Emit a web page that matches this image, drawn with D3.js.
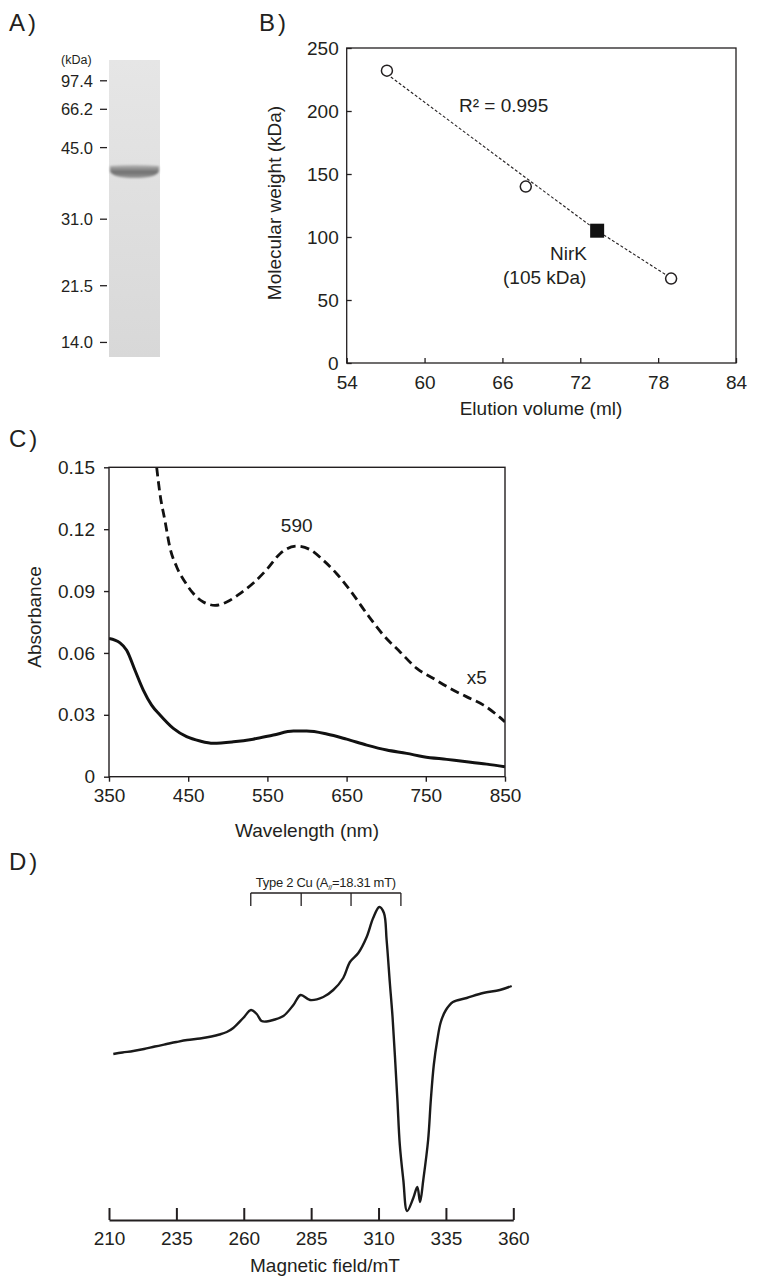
<!DOCTYPE html>
<html><head><meta charset="utf-8">
<script src="https://cdn.jsdelivr.net/npm/d3@7"></script>
<style>
body{margin:0;background:#fff}
text{font-family:"Liberation Sans",Arial,Helvetica,sans-serif;fill:#231f20}
</style>
</head><body>
<svg id="chart" width="759" height="1287"></svg>
<script>
// ---------- Panel A: SDS-PAGE ----------
const gelMarkerLabels = ["97.4","66.2","45.0","31.0","21.5","14.0"];
const gelMarkerRf = [0.070,0.166,0.295,0.536,0.760,0.951];
const gelBandRf = [0.377];

// ---------- Panel B: gel filtration ----------
const standardVolume = [57.1, 67.8, 79.0];
const standardMW = [232, 140, 67];
const nirkVolume = [73.3];
const nirkMW = [105];
const fitVolume = [57.4, 67.8, 73.3, 78.6];
const fitMW = [227, 147, 105, 70];
const bXTicks = [54,60,66,72,78,84];
const bYTicks = [0,50,100,150,200,250];

// ---------- Panel C: UV-vis ----------
const wavelengthSolid = [350,363.9,372.3,382.8,393.3,403.8,414.4,431.2,448,464.9,481.7,507,532,557.6,582.8,599.6,624.9,650,675.4,700.6,725.9,747,776.4,801.6,826.9,850];
const absSolid = [0.067,0.0649,0.0613,0.0516,0.042,0.0347,0.0299,0.0234,0.0194,0.0173,0.0162,0.0169,0.0182,0.0202,0.0221,0.0221,0.0207,0.0182,0.0153,0.0129,0.0113,0.0097,0.0084,0.0073,0.0061,0.0048];
const wavelengthDashed = [410.2,414.4,420.7,427,435.5,446,456.5,469.1,483.9,498.6,515.4,532.3,549.1,566,587,603.8,620.7,637.5,654.4,675.4,696.5,717.5,738.6,759.7,780.7,801.8,822.9,850];
const absDashed = [0.150,0.137,0.124,0.111,0.1017,0.0944,0.0888,0.0847,0.0831,0.0847,0.0888,0.0939,0.1004,0.1081,0.1118,0.1101,0.1049,0.0984,0.0904,0.0791,0.0686,0.0605,0.0525,0.0476,0.0428,0.0387,0.0347,0.0266];
const cXTicks = [350,450,550,650,750,850];
const cYTicks = [0,0.03,0.06,0.09,0.12,0.15];

// ---------- Panel D: EPR ----------
const fieldMT = [211.6,215,219.0,223,227,231.4,235,239,243.8,248,251,253.7,256.1,259.8,262.7,264.8,266.6,268.5,270.9,274.7,278.4,281.1,284.6,289.5,293.2,296.9,299.4,302.5,305.6,308.0,310.3,312.0,313.0,314.2,315.2,316.1,317.0,317.9,319.2,320.6,322.9,324.4,325.4,326.6,328.4,329.4,330.5,331.8,333.1,335.0,337.6,342.7,348.8,355.0,359.4];
const eprSignal = [0.46,0.475,0.49,0.51,0.535,0.56,0.58,0.60,0.615,0.635,0.655,0.68,0.72,0.82,0.90,0.86,0.79,0.785,0.80,0.84,0.95,1.05,1.00,1.03,1.10,1.22,1.38,1.47,1.63,1.82,1.93,1.87,1.60,1.17,0.83,0.43,0.00,-0.45,-0.80,-1.11,-0.98,-0.87,-1.02,-0.80,-0.40,0.00,0.35,0.60,0.78,0.90,0.98,1.02,1.07,1.10,1.14];
const dXTicks = [210,235,260,285,310,335,360];
const hyperfineMT = [262.6,281.3,299.8,318.3];

const ink = "#231f20";
const svg = d3.select("#chart");
svg.append("rect").attr("width",759).attr("height",1287).attr("fill","#fff");
const defs = svg.append("defs");

function panelLabel(x,y,t){
  svg.append("text").attr("x",x).attr("y",y).attr("font-size",24).text(t[0])
    .append("tspan").attr("dx",3).text(t.slice(1));
}

// ===== Panel A =====
panelLabel(9,31,"A)");
{
  const laneX0 = 109, laneX1 = 160;
  const yA = d3.scaleLinear().domain([0,1]).range([60,357]);
  const lg = defs.append("linearGradient").attr("id","lane").attr("x1",0).attr("x2",0).attr("y1",0).attr("y2",1);
  lg.append("stop").attr("offset",0).attr("stop-color","#e6e6e6");
  lg.append("stop").attr("offset",1).attr("stop-color","#d8d8d8");
  svg.append("rect").attr("x",laneX0).attr("y",yA(0)).attr("width",laneX1-laneX0).attr("height",yA(1)-yA(0)).attr("fill","url(#lane)");
  const bg = defs.append("linearGradient").attr("id","band").attr("x1",0).attr("x2",0).attr("y1",0).attr("y2",1);
  bg.append("stop").attr("offset",0).attr("stop-color","#b8b8b8");
  bg.append("stop").attr("offset",0.55).attr("stop-color","#6f6f6f");
  bg.append("stop").attr("offset",1).attr("stop-color","#9a9a9a");
  defs.append("filter").attr("id","blur").append("feGaussianBlur").attr("stdDeviation",0.9);
  gelBandRf.forEach(rf=>{
    const c = yA(rf);
    const p = d3.path();
    p.moveTo(laneX0+1, c-6);
    p.quadraticCurveTo((laneX0+laneX1)/2, c-8, laneX1-1, c-6);
    p.lineTo(laneX1-1, c-1);
    p.quadraticCurveTo(laneX1-3, c+6, (laneX0+laneX1)/2, c+6);
    p.quadraticCurveTo(laneX0+3, c+6, laneX0+1, c-1);
    p.closePath();
    svg.append("path").attr("d",p.toString()).attr("fill","url(#band)").attr("filter","url(#blur)");
  });
  svg.append("text").attr("x",61).attr("y",64).attr("font-size",12.5).text("(kDa)");
  gelMarkerLabels.forEach((lab,i)=>{
    const y = yA(gelMarkerRf[i]);
    svg.append("line").attr("x1",100).attr("x2",107).attr("y1",y).attr("y2",y).attr("stroke",ink).attr("stroke-width",1.3);
    svg.append("text").attr("x",93).attr("y",y).attr("dy","0.36em").attr("text-anchor","end").attr("font-size",16.5).text(lab);
  });
}

// ===== Panel B =====
panelLabel(259,31,"B)");
{
  const x = d3.scaleLinear().domain([54,84]).range([346.7,736]);
  const y = d3.scaleLinear().domain([0,250]).range([363,48]);
  const g = svg.append("g");
  g.append("rect").attr("x",x(54)).attr("y",y(250)).attr("width",x(84)-x(54)).attr("height",y(0)-y(250))
    .attr("fill","none").attr("stroke",ink).attr("stroke-width",1.3);
  const ax = g.append("g").attr("transform",`translate(0,${y(0)})`)
    .call(d3.axisBottom(x).tickValues(bXTicks).tickSizeInner(-5).tickSizeOuter(0).tickPadding(12.5).tickFormat(d3.format("d")));
  const ay = g.append("g").attr("transform",`translate(${x(54)},0)`)
    .call(d3.axisLeft(y).tickValues(bYTicks).tickSizeInner(-5).tickSizeOuter(0).tickPadding(8).tickFormat(d3.format("d")));
  [ax,ay].forEach(a=>{
    a.select(".domain").remove();
    a.selectAll("line").attr("stroke",ink).attr("stroke-width",1.3);
    a.selectAll("text").attr("font-size",19).attr("fill",ink).style("font-family",'"Liberation Sans",Arial,sans-serif');
  });
  const fit = d3.range(fitVolume.length).map(i=>[fitVolume[i],fitMW[i]]);
  g.append("path").attr("d",d3.line().x(d=>x(d[0])).y(d=>y(d[1]))(fit))
    .attr("fill","none").attr("stroke",ink).attr("stroke-width",1.1).attr("stroke-dasharray","3,2");
  standardVolume.forEach((v,i)=>{
    g.append("circle").attr("cx",x(v)).attr("cy",y(standardMW[i])).attr("r",5.5)
      .attr("fill","#fff").attr("stroke",ink).attr("stroke-width",1.5);
  });
  nirkVolume.forEach((v,i)=>{
    g.append("rect").attr("x",x(v)-7).attr("y",y(nirkMW[i])-7).attr("width",14).attr("height",14).attr("fill","#111");
  });
  g.append("text").attr("x",459).attr("y",112).attr("font-size",19).text("R² = 0.995");
  g.append("text").attr("x",550).attr("y",260).attr("font-size",19).text("NirK");
  g.append("text").attr("x",503).attr("y",284).attr("font-size",19).text("(105 kDa)");
  g.append("text").attr("transform","translate(281,203) rotate(-90)").attr("text-anchor","middle").attr("font-size",19).text("Molecular weight (kDa)");
  g.append("text").attr("x",541).attr("y",415).attr("text-anchor","middle").attr("font-size",19).text("Elution volume (ml)");
}

// ===== Panel C =====
panelLabel(9,447,"C)");
{
  const x = d3.scaleLinear().domain([350,850]).range([109,505]);
  const y = d3.scaleLinear().domain([0,0.15]).range([776.7,467.3]);
  const g = svg.append("g");
  defs.append("clipPath").attr("id","clipC").append("rect")
    .attr("x",x(350)).attr("y",y(0.15)).attr("width",x(850)-x(350)).attr("height",y(0)-y(0.15));
  const ax = g.append("g").attr("transform",`translate(0,${y(0)})`)
    .call(d3.axisBottom(x).tickValues(cXTicks).tickSizeInner(5).tickSizeOuter(0).tickPadding(6.5).tickFormat(d3.format("d")));
  const ay = g.append("g").attr("transform",`translate(${x(350)},0)`)
    .call(d3.axisLeft(y).tickValues(cYTicks).tickSizeInner(5).tickSizeOuter(0).tickPadding(9).tickFormat(d=>d===0?"0":d.toFixed(2)));
  [ax,ay].forEach(a=>{
    a.select(".domain").remove();
    a.selectAll("line").attr("stroke",ink).attr("stroke-width",1.4);
    a.selectAll("text").attr("font-size",19).attr("fill",ink).style("font-family",'"Liberation Sans",Arial,sans-serif');
  });
  const line = d3.line().x(d=>x(d[0])).y(d=>y(d[1])).curve(d3.curveMonotoneX);
  const solid = wavelengthSolid.map((w,i)=>[w,absSolid[i]]);
  const dashed = wavelengthDashed.map((w,i)=>[w,absDashed[i]]);
  g.append("path").attr("clip-path","url(#clipC)").attr("d",line(solid)).attr("fill","none").attr("stroke","#111").attr("stroke-width",3);
  g.append("path").attr("clip-path","url(#clipC)").attr("d",line(dashed)).attr("fill","none").attr("stroke","#111").attr("stroke-width",2.8).attr("stroke-dasharray","9,5");
  g.append("rect").attr("x",x(350)).attr("y",y(0.15)).attr("width",x(850)-x(350)).attr("height",y(0)-y(0.15))
    .attr("fill","none").attr("stroke",ink).attr("stroke-width",1.4);
  g.append("text").attr("x",296.7).attr("y",532).attr("text-anchor","middle").attr("font-size",19).text("590");
  g.append("text").attr("x",476.7).attr("y",684).attr("text-anchor","middle").attr("font-size",19).text("x5");
  g.append("text").attr("transform","translate(41,617) rotate(-90)").attr("text-anchor","middle").attr("font-size",19).text("Absorbance");
  g.append("text").attr("x",307).attr("y",837).attr("text-anchor","middle").attr("font-size",19).text("Wavelength (nm)");
}

// ===== Panel D =====
panelLabel(9,870,"D)");
{
  const x = d3.scaleLinear().domain([210,360]).range([109,513.3]);
  const y = d3.scaleLinear().domain([-1.2,2.0]).range([1220,900]);
  const g = svg.append("g");
  const ax = g.append("g").attr("transform",`translate(0,1220)`)
    .call(d3.axisBottom(x).tickValues(dXTicks).tickSizeInner(-12).tickSizeOuter(0).tickPadding(11.5).tickFormat(d3.format("d")));
  ax.select(".domain").attr("stroke",ink).attr("stroke-width",2);
  ax.selectAll("line").attr("stroke",ink).attr("stroke-width",2);
  ax.selectAll("text").attr("font-size",19).attr("fill",ink).style("font-family",'"Liberation Sans",Arial,sans-serif');
  const epr = fieldMT.map((f,i)=>[f,eprSignal[i]]);
  g.append("path").attr("d",d3.line().x(d=>x(d[0])).y(d=>y(d[1])).curve(d3.curveCatmullRom.alpha(0.5))(epr))
    .attr("fill","none").attr("stroke","#1a1a1a").attr("stroke-width",2.4).attr("stroke-linejoin","round");
  // hyperfine bracket
  const by = 893, bt = 906;
  g.append("line").attr("x1",x(hyperfineMT[0])).attr("x2",x(hyperfineMT[hyperfineMT.length-1])).attr("y1",by).attr("y2",by)
    .attr("stroke",ink).attr("stroke-width",1.3);
  hyperfineMT.forEach(h=>{
    g.append("line").attr("x1",x(h)).attr("x2",x(h)).attr("y1",by).attr("y2",bt).attr("stroke",ink).attr("stroke-width",1.3);
  });
  const t = g.append("text").attr("x",(x(hyperfineMT[0])+x(hyperfineMT[3]))/2).attr("y",887).attr("text-anchor","middle").attr("font-size",13).attr("letter-spacing",-0.3);
  t.append("tspan").text("Type 2 Cu (A");
  t.append("tspan").attr("font-size",8).attr("dy",3).text("//");
  t.append("tspan").attr("dy",-3).text("=18.31 mT)");
  g.append("text").attr("x",325).attr("y",1272).attr("text-anchor","middle").attr("font-size",19).text("Magnetic field/mT");
}
</script>
</body></html>
